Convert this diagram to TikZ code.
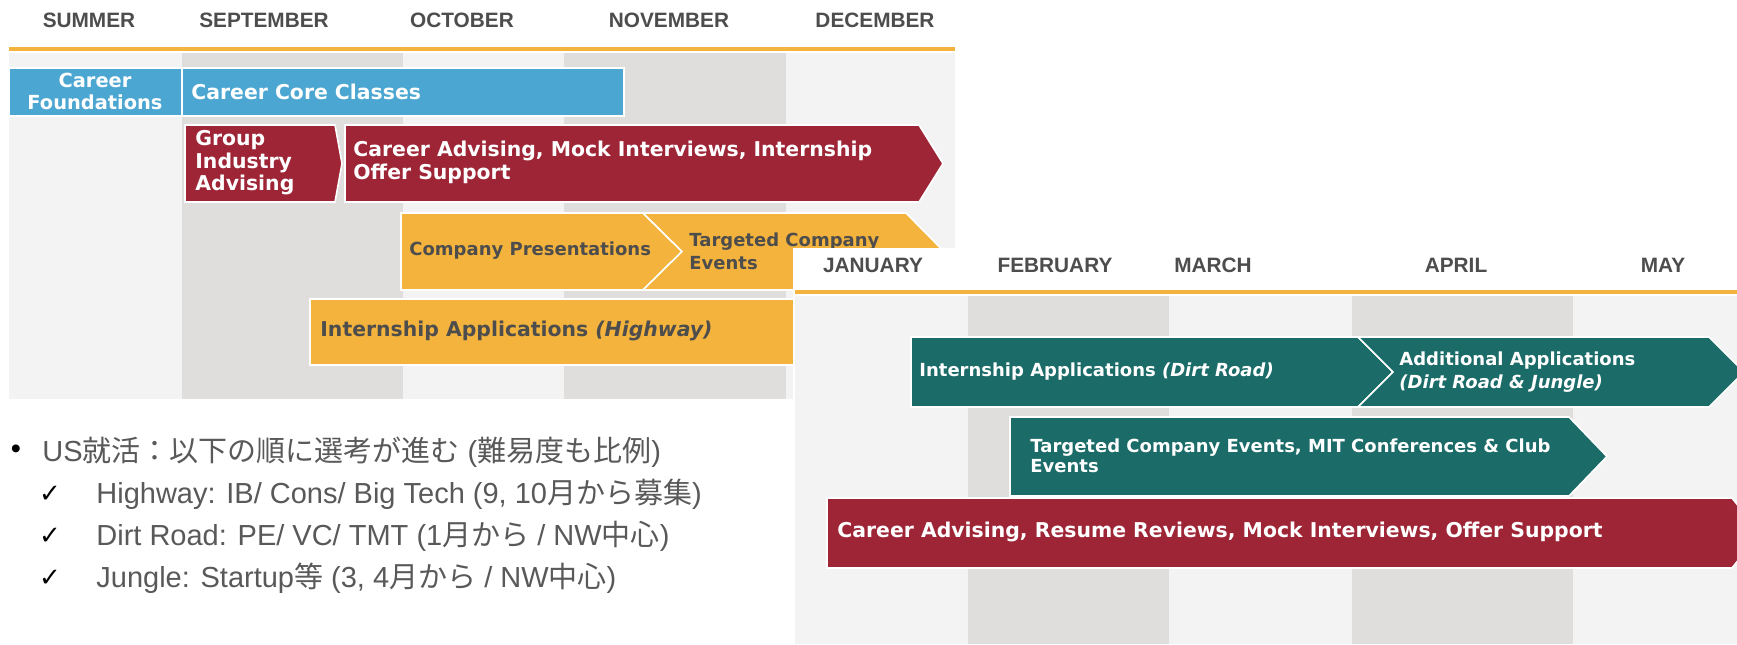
\documentclass[tikz,border=0pt]{standalone}
\usepackage{fontspec}
\setmainfont{Liberation Sans}
\newfontfamily\barfont{DejaVu Sans}
\newfontfamily\cjk{Noto Sans CJK JP}
\newfontfamily\symfont{DejaVu Sans}

\definecolor{careerblue}{HTML}{4BA6D1}
\definecolor{careerred}{HTML}{9E2536}
\definecolor{careerorange}{HTML}{F3B33D}
\definecolor{careerteal}{HTML}{1B6B68}
\definecolor{bglight}{HTML}{F3F3F3}
\definecolor{bgdark}{HTML}{DFDEDC}
\definecolor{hdrgray}{HTML}{4D4D4D}
\definecolor{itemgray}{HTML}{595959}

\begin{document}
\begin{tikzpicture}[x=0.5pt, y=-0.5pt,
    month/.style={font=\fontsize{10.4}{12}\selectfont\bfseries, text=hdrgray, inner sep=0},
    timeline/.style={draw=careerorange, line width=2.2pt},
    bar/.style={draw=white, line width=0.8pt},
    bluebar/.style={bar, fill=careerblue},
    redbar/.style={bar, fill=careerred},
    orangebar/.style={bar, fill=careerorange},
    tealbar/.style={bar, fill=careerteal},
    bartext/.style={font=\barfont\bfseries\fontsize{10.2}{11.5}\selectfont, text=white, inner sep=0, anchor=west, align=left},
    smalltext/.style={bartext, font=\barfont\bfseries\fontsize{9}{11.5}\selectfont},
    darktext/.style={text=hdrgray},
    item/.style={font=\fontsize{14.5}{17}\selectfont, text=itemgray, inner sep=0, anchor=west},
    check/.style={font=\symfont\fontsize{13}{15}\selectfont, text=black, inner sep=0}
  ]

  \useasboundingbox (0,0) rectangle (1737,644);
  \clip (0,0) rectangle (1737,644);
  \fill[white] (0,0) rectangle (1737,644);

  % fall semester
  \fill[bglight] (9,53) rectangle (955,399);
  \fill[bgdark] (182,53) rectangle (403,399);
  \fill[bgdark] (564,53) rectangle (786,399);
  \draw[timeline] (9,49) -- (955,49);

  \node[month] (summer) at (89,20) {SUMMER};
  \node[month] (sep) at (264,20) {SEPTEMBER};
  \node[month] (oct) at (462,20) {OCTOBER};
  \node[month] (nov) at (669,20) {NOVEMBER};
  \node[month] (dec) at (875,20) {DECEMBER};

  \filldraw[bluebar] (9,68) rectangle (182,116);
  \filldraw[bluebar] (182,68) rectangle (624,116);
  \node[bartext, anchor=center, align=center, font=\barfont\bfseries\fontsize{9.7}{11}\selectfont] (found) at (95,91) {Career\\Foundations};
  \node[bartext] (core) at (191,92) {Career Core Classes};

  \filldraw[redbar] (185,125) -- (335,125) -- (342,163.5) -- (335,202) -- (185,202) -- cycle;
  \filldraw[redbar] (345,125) -- (919,125) -- (943,163.5) -- (919,202) -- (345,202) -- cycle;
  \node[bartext, font=\barfont\bfseries\fontsize{10.2}{11.3}\selectfont] (group) at (195,163) {Group\\Industry\\Advising};
  \node[bartext] (advfall) at (353,162) {Career Advising, Mock Interviews, Internship\\Offer Support};

  \filldraw[orangebar] (401,213) -- (643,213) -- (682,251.5) -- (643,290) -- (401,290) -- cycle;
  \filldraw[orangebar] (643,213) -- (906,213) -- (944,251.5) -- (906,290) -- (643,290) -- (682,251.5) -- cycle;
  \node[smalltext, darktext] (pres) at (409,251) {Company Presentations};
  \node[smalltext, darktext] (tgtfall) at (689,251) {Targeted Company\\Events};

  \filldraw[orangebar] (310,299) rectangle (800,365);
  \node[bartext, darktext] (highway) at (320,331) {Internship Applications \textit{(Highway)}};

  % spring semester
  \fill[white] (793,248) rectangle (1737,644);
  \fill[bglight] (795,296) rectangle (1737,644);
  \fill[bgdark] (968,296) rectangle (1169,644);
  \fill[bgdark] (1352,296) rectangle (1573,644);
  \draw[timeline] (795,292) -- (1737,292);

  \node[month] (jan) at (873,265) {JANUARY};
  \node[month] (feb) at (1055,265) {FEBRUARY};
  \node[month] (mar) at (1213,265) {MARCH};
  \node[month] (apr) at (1456,265) {APRIL};
  \node[month] (may) at (1663,265) {MAY};

  \filldraw[tealbar] (911,337) -- (1358,337) -- (1393,372) -- (1358,407) -- (911,407) -- cycle;
  \filldraw[tealbar] (1358,337) -- (1709,337) -- (1744,372) -- (1709,407) -- (1358,407) -- (1393,372) -- cycle;
  \node[smalltext] (dirt) at (919,372) {Internship Applications \textit{(Dirt Road)}};
  \node[smalltext] (addl) at (1399,372) {Additional Applications\\\textit{(Dirt Road \& Jungle)}};

  \filldraw[tealbar] (1010,417) -- (1569,417) -- (1607,456.5) -- (1569,496) -- (1010,496) -- cycle;
  \node[smalltext, font=\barfont\bfseries\fontsize{9}{10}\selectfont] (tgtspring) at (1030,456) {Targeted Company Events, MIT Conferences \& Club\\Events};

  \filldraw[redbar] (827,498) -- (1732,498) -- (1760,533) -- (1732,568) -- (827,568) -- cycle;
  \node[bartext] (advspring) at (837,532) {Career Advising, Resume Reviews, Mock Interviews, Offer Support};

  % notes
  \node[item, anchor=center, text=black] (bul) at (16,452) {•};
  \node[item] (usline) at (42,452) {US{\cjk 就活：以下の順に選考が進む} ({\cjk 難易度も比例})};
  \node[check] (chk1) at (50,494) {✓};
  \node[item] (hwline) at (96,494) {Highway: IB/ Cons/ Big Tech (9, 10{\cjk 月から募集})};
  \node[check] (chk2) at (50,536) {✓};
  \node[item] (drline) at (96,536) {Dirt Road: PE/ VC/ TMT (1{\cjk 月から} / NW{\cjk 中心})};
  \node[check] (chk3) at (50,578) {✓};
  \node[item] (jgline) at (96,578) {Jungle: Startup{\cjk 等} (3, 4{\cjk 月から} / NW{\cjk 中心})};

\end{tikzpicture}
\end{document}
